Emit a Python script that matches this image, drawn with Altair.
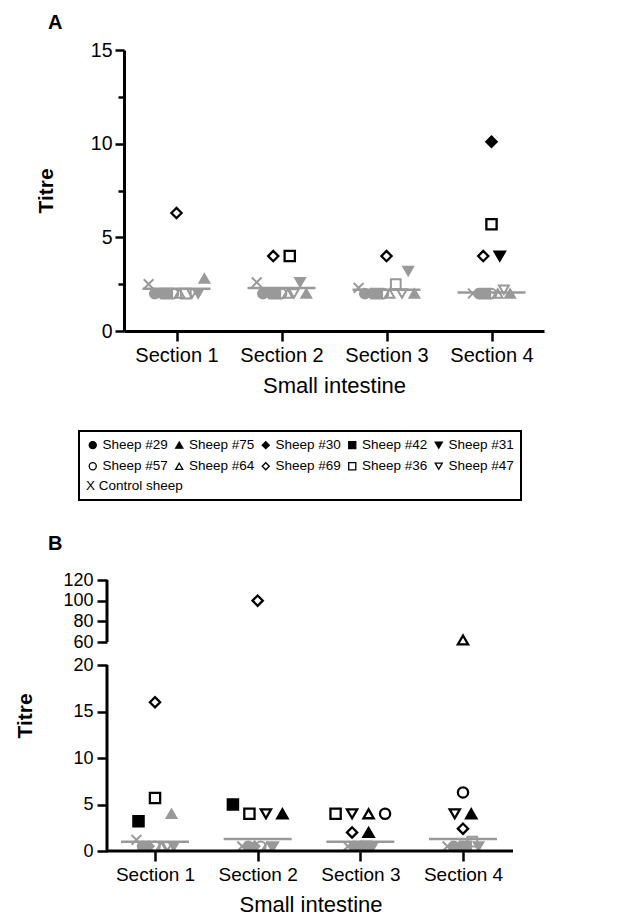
import json
import altair as alt
import pandas as pd

FONT = "Liberation Sans"
GREY = "#999999"

# ---------------- data ----------------
SHEEP = ["Sheep #29", "Sheep #75", "Sheep #30", "Sheep #42", "Sheep #31",
         "Sheep #57", "Sheep #64", "Sheep #69", "Sheep #36", "Sheep #47", "Control sheep"]
SHAPES = ["circle", "triangle-up", "diamond", "square", "triangle-down",
          "circle", "triangle-up", "diamond", "square", "triangle-down",
          "M-1,-1L1,1M-1,1L1,-1"]
FILLED = [1, 1, 1, 1, 1, 0, 0, 0, 0, 0, 0]
SECTIONS = [1, 2, 3, 4]
CONTROL_LEGEND_TEXT = "X Control sheep"

# Panel A: titre per sheep (SHEEP order), and grey (1) / black (0) marker
A_S1 = [2, 2.8, 2, 2, 2, 2, 2, 6.3, 2, 2, 2.5]
A_S2 = [2, 2, 2, 2, 2.6, 2, 2, 4, 4, 2, 2.6]
A_S3 = [2, 2, 2, 2, 3.2, 2, 2, 4, 2.5, 2, 2.3]
A_S4 = [2, 2, 10.1, 2, 4, 2, 2, 4, 5.7, 2.2, 2]
A_S1_GREY = [1, 1, 1, 1, 1, 1, 1, 0, 1, 1, 1]
A_S2_GREY = [1, 1, 1, 1, 1, 1, 1, 0, 0, 1, 1]
A_S3_GREY = [1, 1, 1, 1, 1, 1, 1, 0, 1, 1, 1]
A_S4_GREY = [1, 1, 0, 1, 0, 1, 1, 0, 0, 1, 1]
A_CUTOFF = [2.25, 2.3, 2.2, 2.05]

# Panel B
B_S1 = [0.5, 4, 0.5, 3.2, 0.5, 0.5, 0.5, 16, 5.7, 0.5, 1.2]
B_S2 = [0.5, 4, 0.5, 5, 0.5, 0.5, 0.5, 100, 4, 4, 0.5]
B_S3 = [0.5, 2, 0.5, 0.5, 0.5, 4, 4, 2, 4, 4, 0.5]
B_S4 = [0.5, 4, 0.5, 0.5, 0.5, 6.3, 62, 2.4, 1.0, 4, 0.5]
B_S1_GREY = [1, 1, 1, 0, 1, 1, 1, 0, 0, 1, 1]
B_S2_GREY = [1, 0, 1, 0, 1, 1, 1, 0, 0, 0, 1]
B_S3_GREY = [1, 0, 1, 1, 1, 0, 0, 0, 0, 0, 1]
B_S4_GREY = [1, 0, 1, 1, 1, 0, 0, 0, 1, 0, 1]
B_CUTOFF = [1.0, 1.3, 1.0, 1.3]

A_YTICKS = [0, 2.5, 5, 7.5, 10, 12.5, 15]
B_YTICKS = [0, 5, 10, 15, 20, 60, 80, 100, 120]
B_BREAK_FROM = [0, 60]
B_BREAK_TO = [20, 120]
PANEL_LABELS = ["A", "B"]

# order used to spread overlapping points side by side (Prism-style scatter)
CLUSTER_ORDER = ["Control sheep", "Sheep #29", "Sheep #30", "Sheep #42", "Sheep #57",
                 "Sheep #64", "Sheep #69", "Sheep #36", "Sheep #47", "Sheep #31", "Sheep #75"]
LEVEL_ORDER = ["Sheep #42", "Sheep #69", "Sheep #36", "Sheep #47", "Sheep #64",
               "Sheep #57", "Sheep #31", "Sheep #75", "Sheep #29", "Sheep #30", "Control sheep"]


def panel_df(vals, greys):
    rows = []
    for sec, v_list, g_list in zip(SECTIONS, vals, greys):
        for s, v, g, f in zip(SHEEP, v_list, g_list, FILLED):
            rows.append(dict(sec=sec, sheep=s, titre=v, grey=g, filled=f))
    return pd.DataFrame(rows)


dfA = panel_df([A_S1, A_S2, A_S3, A_S4], [A_S1_GREY, A_S2_GREY, A_S3_GREY, A_S4_GREY])
dfB = panel_df([B_S1, B_S2, B_S3, B_S4], [B_S1_GREY, B_S2_GREY, B_S3_GREY, B_S4_GREY])
cutA = pd.DataFrame(dict(sec=SECTIONS, cut=A_CUTOFF))
cutB = pd.DataFrame(dict(sec=SECTIONS, cut=B_CUTOFF))
breakB = pd.DataFrame(dict(y=B_BREAK_FROM, y2=B_BREAK_TO))

# ---------------- styling ----------------
LEG = alt.Legend(title=CONTROL_LEGEND_TEXT, titleOrient="bottom", titleAnchor="start",
                 titleFont=FONT, titleFontSize=13.5, titleFontWeight="normal",
                 titleColor="black", titlePadding=6,
                 values=SHEEP[:10],
                 orient="none", legendX=-45, legendY=381, columns=5,
                 direction="horizontal",
                 labelFont=FONT, labelFontSize=13.5, labelColor="black", labelOffset=3,
                 symbolSize=50, symbolStrokeWidth=1.3, symbolStrokeColor="black",
                 columnPadding=4.5, rowPadding=6.5, padding=7, strokeColor="black")

FILLS = ["black" if f else "transparent" for f in FILLED]


def axis_common(**kw):
    base = dict(grid=False, domainColor="black", domainWidth=3, tickColor="black",
                tickWidth=2.5, labelColor="black", labelFont=FONT, titleFont=FONT,
                titleColor="black")
    base.update(kw)
    return alt.Axis(**base)


def panel(df, cut, xdom, width, height, yscale, yaxis, th, lw, off, lab_xy, spacer_x,
          label_size, x_domain_line=True, extra=None, x_title_shift=0):
    px = width / (xdom[1] - xdom[0])
    cl = json.dumps(CLUSTER_ORDER)
    lv = json.dumps(LEVEL_ORDER)
    xaxis = axis_common(values=SECTIONS, labelExpr="'Section ' + datum.value",
                        title="Small intestine", titleFontSize=22, titleFontWeight="normal",
                        labelFontSize=label_size, tickSize=10, labelPadding=4, titlePadding=10,
                        domain=x_domain_line, titleX=width / 2 + x_title_shift,
                        titleAlign="center")
    xs = alt.Scale(domain=xdom, nice=False, zero=False)

    base = alt.Chart(df).transform_calculate(
        lvl=f"datum.titre <= {th} ? -1 : floor(datum.titre / {lw} + {off})",
        ord=f"datum.titre <= {th} ? indexof({cl}, datum.sheep) : indexof({lv}, datum.sheep)",
    ).transform_window(
        rank="row_number()", cnt="count()", groupby=["sec", "lvl"],
        sort=[alt.SortField("ord", order="ascending")], frame=[None, None]
    ).transform_calculate(
        xp=f"datum.sec + (datum.rank - (datum.cnt + 1) / 2) * (datum.lvl < 0 ? {6.2 / px} : {16.5 / px})"
    )

    x_enc = alt.X("xp:Q", scale=xs, axis=xaxis)
    y_enc = alt.Y("titre:Q", scale=yscale, axis=yaxis)
    shape_enc = alt.Shape("sheep:N", scale=alt.Scale(domain=SHEEP, range=SHAPES), legend=LEG)

    grey_pts = base.transform_filter("datum.grey == 1").mark_point(
        size=95, strokeWidth=2, opacity=1, stroke=GREY
    ).encode(
        x=x_enc, y=y_enc, shape=shape_enc,
        fill=alt.condition("datum.filled == 1", alt.value(GREY), alt.value("transparent")),
    )
    black_pts = base.transform_filter("datum.grey == 0").mark_point(
        size=105, strokeWidth=2.3, opacity=1, stroke="black"
    ).encode(
        x=x_enc, y=y_enc, shape=shape_enc,
        fill=alt.Fill("sheep:N", scale=alt.Scale(domain=SHEEP, range=FILLS), legend=LEG),
    )
    hw = 34 / px
    cut_rule = alt.Chart(cut).transform_calculate(
        xa=f"datum.sec - {hw}", xb=f"datum.sec + {hw}"
    ).mark_rule(color=GREY, strokeWidth=2.5).encode(
        x=alt.X("xa:Q", scale=xs, axis=xaxis), x2="xb:Q", y=alt.Y("cut:Q", scale=yscale, axis=yaxis)
    )
    label = alt.Chart(pd.DataFrame(dict(lab=[lab_xy[0]]))).mark_text(
        font=FONT, fontSize=20, fontWeight="bold", align="left", baseline="alphabetic", color="black"
    ).encode(text="lab:N", x=alt.value(lab_xy[1]), y=alt.value(lab_xy[2]))
    spacer = alt.Chart(pd.DataFrame(dict(z=[0]))).mark_rule(opacity=0).encode(
        x=alt.value(spacer_x), y=alt.value(0), y2=alt.value(1)
    )
    layers = [grey_pts, cut_rule, black_pts]
    if extra is not None:
        layers += extra(xs, yscale, xaxis, yaxis, px)
    layers += [label, spacer]
    return alt.layer(*layers).properties(width=width, height=height)


# ---- panel A ----
A_XDOM = [0.5, 4.5]
a_yscale = alt.Scale(domain=[0, 15], nice=False, zero=False)
a_yaxis = axis_common(values=A_YTICKS, labelExpr="datum.value % 5 === 0 ? datum.label : ''",
                      title="Titre", titleFontSize=21, titleFontWeight="bold", titlePadding=34,
                      labelFontSize=19.5, labelPadding=3,
                      tickSize={"condition": {"test": "datum.value % 5 === 0", "value": 9}, "value": 6})
chartA = panel(dfA, cutA, A_XDOM, 420, 281, a_yscale, a_yaxis, 3.3, 1, 0.5,
               (PANEL_LABELS[0], -76, -21), -111, 20)

# ---- panel B (broken axis via piecewise scale; y axis set 17px left of plot) ----
B_AXIS_SHIFT = 17
B_XDOM = [0.698, 4.487]
B_WIDTH = 389
b_yscale = alt.Scale(domain=[0, 20, 60, 120], range=[271, 85, 62, 0], nice=False, zero=False)
b_yaxis = axis_common(values=B_YTICKS, title="Titre", titleFontSize=21, titleFontWeight="bold",
                      titlePadding=27, labelFontSize=18, labelPadding=4, tickSize=10, domain=False,
                      offset=B_AXIS_SHIFT)


def b_axis_lines(xs, ys, xaxis, yaxis, px):
    x_start = B_XDOM[0] - B_AXIS_SHIFT / px
    ybreak = alt.Chart(breakB).mark_rule(color="black", strokeWidth=3).encode(
        x=alt.datum(x_start, scale=xs), y=alt.Y("y:Q", scale=ys, axis=yaxis), y2="y2:Q"
    )
    xline = alt.Chart(pd.DataFrame(dict(y=[0]))).mark_rule(color="black", strokeWidth=3).encode(
        x=alt.datum(x_start, scale=xs), x2=alt.datum(B_XDOM[1]),
        y=alt.Y("y:Q", scale=ys, axis=yaxis)
    )
    return [ybreak, xline]


chartB = panel(dfB, cutB, B_XDOM, B_WIDTH, 271, b_yscale, b_yaxis, 1.5, 3, 0,
               (PANEL_LABELS[1], -76, -30), -111, 19, x_domain_line=False, extra=b_axis_lines,
               x_title_shift=-8)

chart = alt.vconcat(chartA, chartB, spacing=138).configure_view(stroke=None)

# thicker legend frame, if the schema allows it
try:
    trial = chart.configure_legend(strokeWidth=2)
    trial.to_dict()
    chart = trial
except Exception:
    pass

chart.save("out.html", embed_options={"renderer": "svg", "actions": False})
